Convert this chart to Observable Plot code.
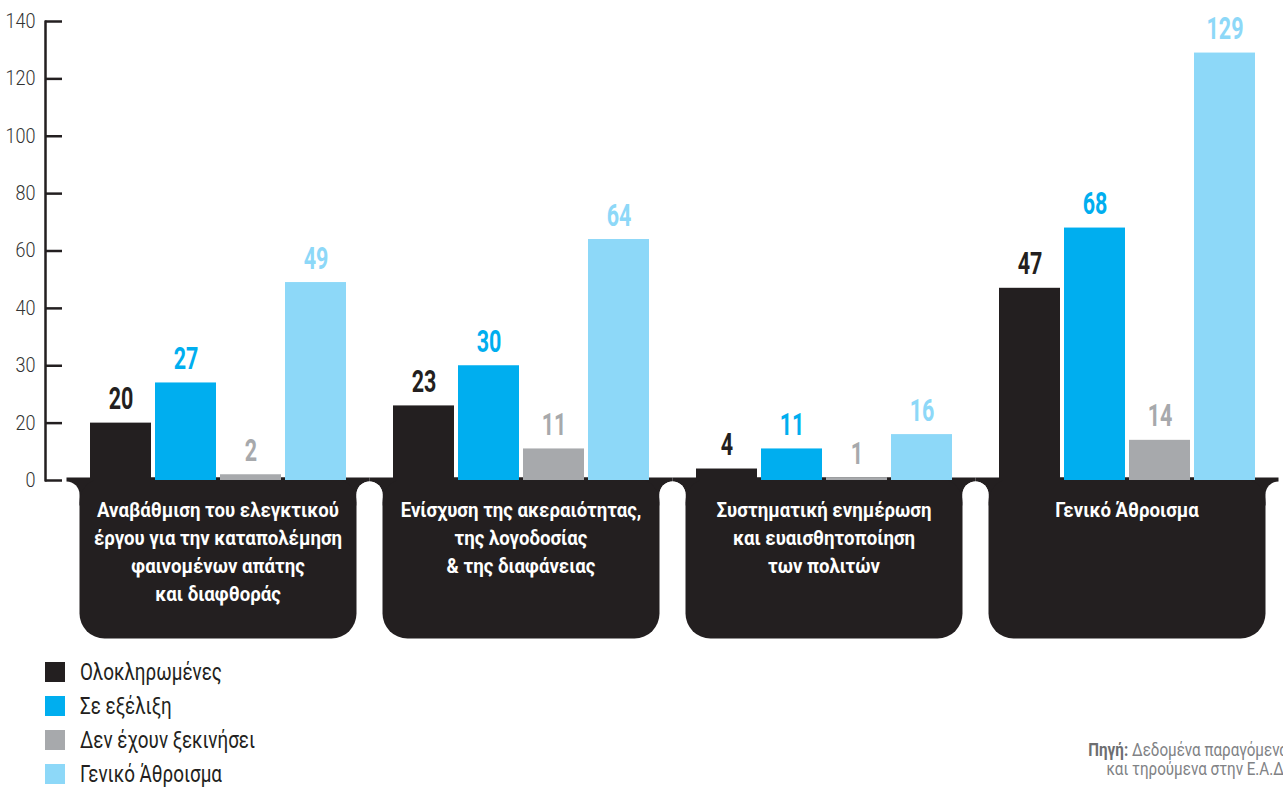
<!DOCTYPE html>
<html>
<head>
<meta charset="utf-8">
<script src="https://cdn.jsdelivr.net/npm/d3@7"></script>
<script src="https://cdn.jsdelivr.net/npm/@observablehq/plot@0.6"></script>
<style>
  html, body { margin: 0; padding: 0; background: #fff; }
  #wrap { position: relative; width: 1283px; height: 788px; overflow: hidden;
          font-family: Roboto, "Liberation Sans", sans-serif; }
  #chart { position: absolute; left: 0; top: 0; }
  #legend { position: absolute; left: 45px; top: 655px; }
  .item { display: flex; align-items: center; height: 34px; font-size: 24px; color: #231f20; white-space: nowrap; }
  .sw { width: 20px; height: 20px; margin-right: 15px; flex: none; }
  .lt { display: inline-block; transform-origin: 0 50%; }
  #source { position: absolute; right: -5px; top: 740px; text-align: right; font-size: 18px;
            line-height: 19px; color: #808285; white-space: nowrap; transform-origin: 100% 50%; }
  #source b { color: #6d6e71; }
</style>
</head>
<body>
<div id="wrap">
  <div id="chart"></div>
  <div id="legend"></div>
  <div id="source"><b>Πηγή:</b> Δεδομένα παραγόμενα<br>και τηρούμενα στην Ε.Α.Δ.</div>
</div>
<script>
// ---- data ----
const groups = [
  "Αναβάθμιση του ελεγκτικού\nέργου για την καταπολέμηση\nφαινομένων απάτης\nκαι διαφθοράς",
  "Ενίσχυση της ακεραιότητας,\nτης λογοδοσίας\n& της διαφάνειας",
  "Συστηματική ενημέρωση\nκαι ευαισθητοποίηση\nτων πολιτών",
  "Γενικό Άθροισμα"
];
const series = ["Ολοκληρωμένες", "Σε εξέλιξη", "Δεν έχουν ξεκινήσει", "Γενικό Άθροισμα"];
const completed  = [20, 23, 4, 47];
const inProgress = [27, 30, 11, 68];
const notStarted = [2, 11, 1, 14];
const total      = [49, 64, 16, 129];
const colors = ["#231f20", "#00aeef", "#a7a9ac", "#8dd8f8"];
const yTicks = [0, 20, 30, 40, 60, 80, 100, 120, 140];

const seriesValues = [completed, inProgress, notStarted, total];
const rows = groups.flatMap((g, gi) =>
  series.map((s, si) => ({group: g, series: s, value: seriesValues[si][gi]})));

const DARK = "#231f20";
const FONT = 'Roboto, "Liberation Sans", sans-serif';

// width factors to emulate the condensed typeface of the original
const ctx = document.createElement("canvas").getContext("2d");
function factor(str, font, target) {
  ctx.font = font;
  return target / ctx.measureText(str).width;
}
const fCat = factor("Αναβάθμιση του ελεγκτικού", `bold 21px ${FONT}`, 242);
const fVal = factor("129", `bold 32px ${FONT}`, 37);
const fTick = factor("140", `300 20px ${FONT}`, 30);
const fLeg = factor("Ολοκληρωμένες", `24px ${FONT}`, 142);
const fSrc = factor("Δεδομένα παραγόμενα", `18px ${FONT}`, 156);

const chart = Plot.plot({
  width: 1283,
  height: 645,
  marginLeft: 66,
  marginRight: 5,
  marginTop: 21,
  marginBottom: 7,
  style: {fontFamily: FONT, background: "transparent", overflow: "visible"},
  fx: {domain: groups, padding: 0, label: null},
  x: {domain: series, paddingInner: 4 / 65, paddingOuter: 0.3615, axis: null},
  y: {type: "linear", domain: yTicks, range: yTicks.map((_, i) => 480 - i * 459 / (yTicks.length - 1)), label: null},
  color: {domain: series, range: colors},
  marks: [
    // category label boxes
    Plot.frame({fill: DARK, insetTop: 456, insetBottom: 133}),
    Plot.frame({fill: "white", rx: 13, insetTop: 460, insetBottom: -20, insetLeft: -13, insetRight: 290}),
    Plot.frame({fill: "white", rx: 13, insetTop: 460, insetBottom: -20, insetLeft: 290, insetRight: -13}),
    Plot.frame({fill: DARK, rx: 25, insetTop: 456, insetLeft: 13, insetRight: 13}),
    // y axis line
    Plot.frame({fill: DARK, facetAnchor: "left", insetTop: -1, insetBottom: 157,
                insetLeft: -22.25, insetRight: 322.75}),
    Plot.barY(rows, {fx: "group", x: "series", y: "value", fill: "series"}),
    Plot.text(rows, {fx: "group", x: "series", y: "value", text: d => String(d.value),
                     fill: "series", dy: -14, lineAnchor: "bottom", fontSize: 32, fontWeight: "bold",
                     className: "val"}),
    Plot.axisY({ticks: yTicks, tickSize: -17, tickPadding: 27, dx: -21, strokeWidth: 2.5,
                stroke: DARK, fill: "#333", fontSize: 20, fontWeight: 300, tickFormat: d => String(d),
                className: "ytick"}),
    Plot.axisFx({anchor: "bottom", tickSize: 0, tickPadding: 0, dy: -141, lineHeight: 1.33,
                 fill: "white", fontSize: 21, fontWeight: "bold", label: null, className: "cat"})
  ]
});

// condense text horizontally around its anchor point
function condense(root, sel, f) {
  root.querySelectorAll(sel).forEach(t => {
    const xa = t.getAttribute("x");
    const x = xa !== null && isFinite(+xa) ? +xa : 0;
    if (xa !== null && isFinite(+xa)) t.removeAttribute("x");
    const tr = t.getAttribute("transform") || "";
    t.setAttribute("transform", `${tr} translate(${x},0) scale(${f},1)`);
  });
}
condense(chart, ".val text", fVal);
condense(chart, ".ytick text", fTick);
condense(chart, ".cat text", fCat);
document.getElementById("chart").appendChild(chart);

// legend
const legend = document.getElementById("legend");
series.forEach((s, i) => {
  const item = document.createElement("div");
  item.className = "item";
  const sw = document.createElement("span");
  sw.className = "sw";
  sw.style.background = colors[i];
  const t = document.createElement("span");
  t.className = "lt";
  t.textContent = s;
  t.style.transform = `scaleX(${fLeg})`;
  item.appendChild(sw);
  item.appendChild(t);
  legend.appendChild(item);
});
document.getElementById("source").style.transform = `scaleX(${fSrc})`;
</script>
</body>
</html>
